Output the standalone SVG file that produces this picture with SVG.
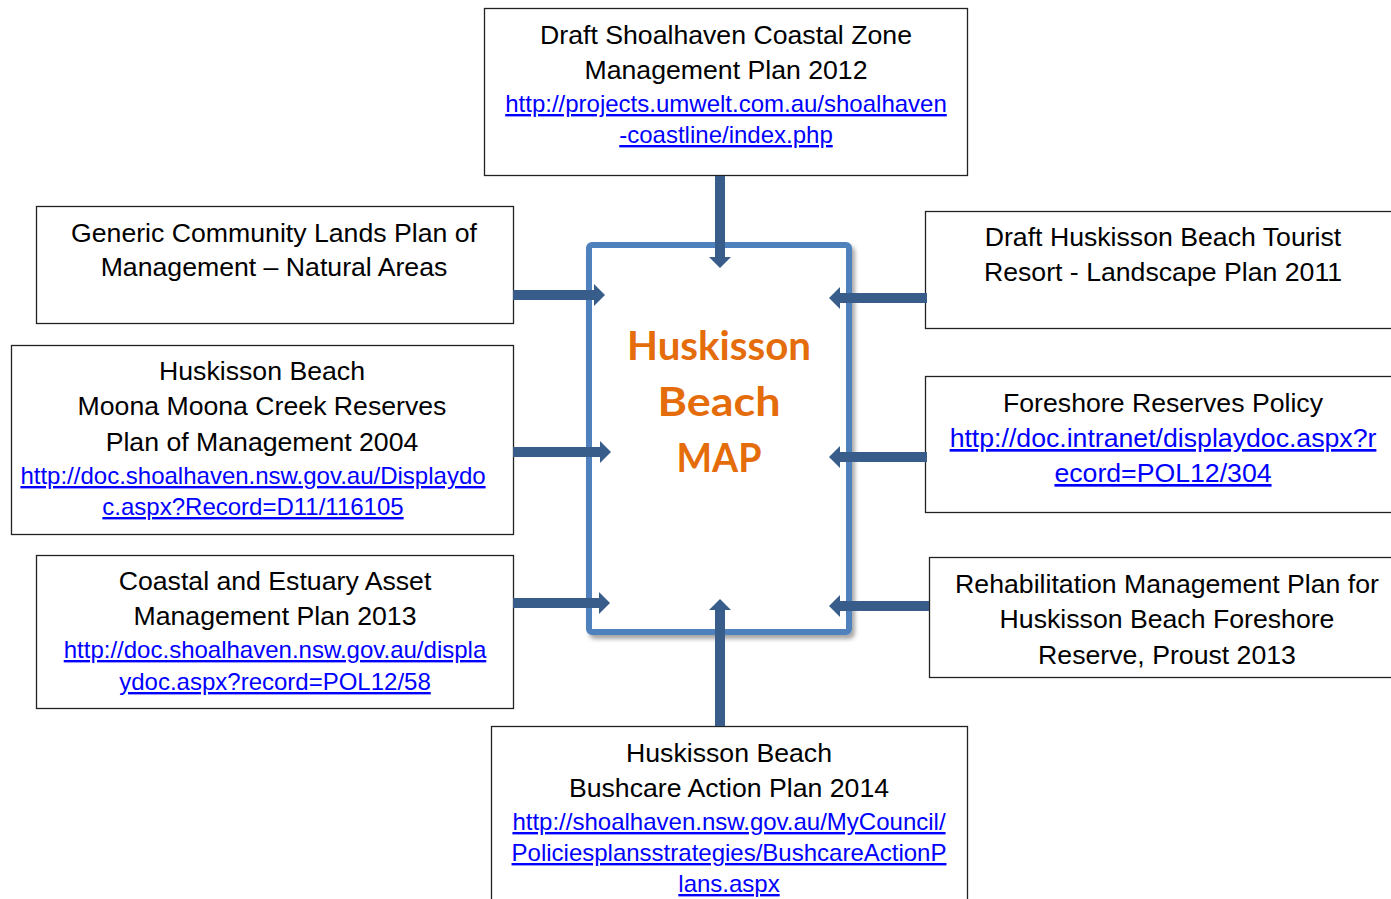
<svg xmlns="http://www.w3.org/2000/svg" width="1391" height="899" viewBox="0 0 1391 899">
<style>
.box{fill:#fff;stroke:#222;stroke-width:1.3}
.t{font-family:"Liberation Sans",Arial,sans-serif;font-size:26.67px;fill:#000;text-anchor:middle}
.u{font-family:"Liberation Sans",Arial,sans-serif;font-size:24px;fill:#0000FF;text-decoration:underline;text-anchor:middle}
.ub{font-size:26.67px}
.c{font-family:Lato,"DejaVu Sans",sans-serif;font-weight:bold;font-size:40px;fill:#E46C0A;text-anchor:middle}
.a{stroke:#385D8A;stroke-width:10;fill:none}
</style>
<defs>
<marker id="ah" viewBox="0 0 11 22" refX="0" refY="11" markerWidth="11" markerHeight="22" markerUnits="userSpaceOnUse" orient="auto">
<path d="M0,0 L11,11 L0,22 Z" fill="#385D8A"/>
</marker>
<filter id="sh" x="-10%" y="-10%" width="120%" height="120%">
<feGaussianBlur in="SourceAlpha" stdDeviation="2"/>
<feOffset dx="3" dy="4" result="b"/>
<feFlood flood-color="#000" flood-opacity="0.35"/>
<feComposite in2="b" operator="in"/>
<feMerge><feMergeNode/><feMergeNode in="SourceGraphic"/></feMerge>
</filter>
</defs>

<g id="center">
<rect x="589" y="245" width="260" height="387" rx="3" fill="#fff" stroke="#4F81BD" stroke-width="6" filter="url(#sh)"/>
<text class="c" x="719" y="360" textLength="184" lengthAdjust="spacingAndGlyphs">Huskisson</text>
<text class="c" x="719" y="416" textLength="123" lengthAdjust="spacingAndGlyphs">Beach</text>
<text class="c" x="719" y="472" textLength="85" lengthAdjust="spacingAndGlyphs">MAP</text>
</g>

<g id="top">
<rect class="box" x="484.5" y="8.5" width="483" height="167"/>
<text class="t" x="726" y="44">Draft Shoalhaven Coastal Zone</text>
<text class="t" x="726" y="79">Management Plan 2012</text>
<text class="u" x="726" y="112">http://projects.umwelt.com.au/shoalhaven</text>
<text class="u" x="726" y="143">-coastline/index.php</text>
</g>

<g id="left1">
<rect class="box" x="36.5" y="206.5" width="477" height="117"/>
<text class="t" x="274" y="242">Generic Community Lands Plan of</text>
<text class="t" x="274" y="276">Management – Natural Areas</text>
</g>

<g id="left2">
<rect class="box" x="11.5" y="345.5" width="502" height="189"/>
<text class="t" x="262" y="380">Huskisson Beach</text>
<text class="t" x="262" y="415">Moona Moona Creek Reserves</text>
<text class="t" x="262" y="451">Plan of Management 2004</text>
<text class="u" x="253" y="484">http://doc.shoalhaven.nsw.gov.au/Displaydo</text>
<text class="u" x="253" y="515">c.aspx?Record=D11/116105</text>
</g>

<g id="left3">
<rect class="box" x="36.5" y="555.5" width="477" height="153"/>
<text class="t" x="275" y="590">Coastal and Estuary Asset</text>
<text class="t" x="275" y="625">Management Plan 2013</text>
<text class="u" x="275" y="658">http://doc.shoalhaven.nsw.gov.au/displa</text>
<text class="u" x="275" y="690">ydoc.aspx?record=POL12/58</text>
</g>

<g id="right1">
<rect class="box" x="925.5" y="211.5" width="480" height="117"/>
<text class="t" x="1163" y="246">Draft Huskisson Beach Tourist</text>
<text class="t" x="1163" y="281">Resort - Landscape Plan 2011</text>
</g>

<g id="right2">
<rect class="box" x="925.5" y="376.5" width="480" height="136"/>
<text class="t" x="1163" y="412">Foreshore Reserves Policy</text>
<text class="u ub" x="1163" y="447">http://doc.intranet/displaydoc.aspx?r</text>
<text class="u ub" x="1163" y="482">ecord=POL12/304</text>
</g>

<g id="right3">
<rect class="box" x="929.5" y="557.5" width="480" height="120"/>
<text class="t" x="1167" y="593">Rehabilitation Management Plan for</text>
<text class="t" x="1167" y="628">Huskisson Beach Foreshore</text>
<text class="t" x="1167" y="664">Reserve, Proust 2013</text>
</g>

<g id="bottom">
<rect class="box" x="491.5" y="726.5" width="476" height="200"/>
<text class="t" x="729" y="762">Huskisson Beach</text>
<text class="t" x="729" y="797">Bushcare Action Plan 2014</text>
<text class="u" x="729" y="830">http://shoalhaven.nsw.gov.au/MyCouncil/</text>
<text class="u" x="729" y="861">Policiesplansstrategies/BushcareActionP</text>
<text class="u" x="729" y="892">lans.aspx</text>
</g>

<g id="connectors">
<line class="a" x1="720" y1="176" x2="720" y2="257" marker-end="url(#ah)"/>
<line class="a" x1="720" y1="726" x2="720" y2="610" marker-end="url(#ah)"/>
<line class="a" x1="513" y1="295" x2="594" y2="295" marker-end="url(#ah)"/>
<line class="a" x1="513" y1="452" x2="600" y2="452" marker-end="url(#ah)"/>
<line class="a" x1="513" y1="603" x2="599" y2="603" marker-end="url(#ah)"/>
<line class="a" x1="927" y1="298" x2="840" y2="298" marker-end="url(#ah)"/>
<line class="a" x1="927" y1="457" x2="840" y2="457" marker-end="url(#ah)"/>
<line class="a" x1="929" y1="606" x2="840" y2="606" marker-end="url(#ah)"/>
</g>
</svg>
